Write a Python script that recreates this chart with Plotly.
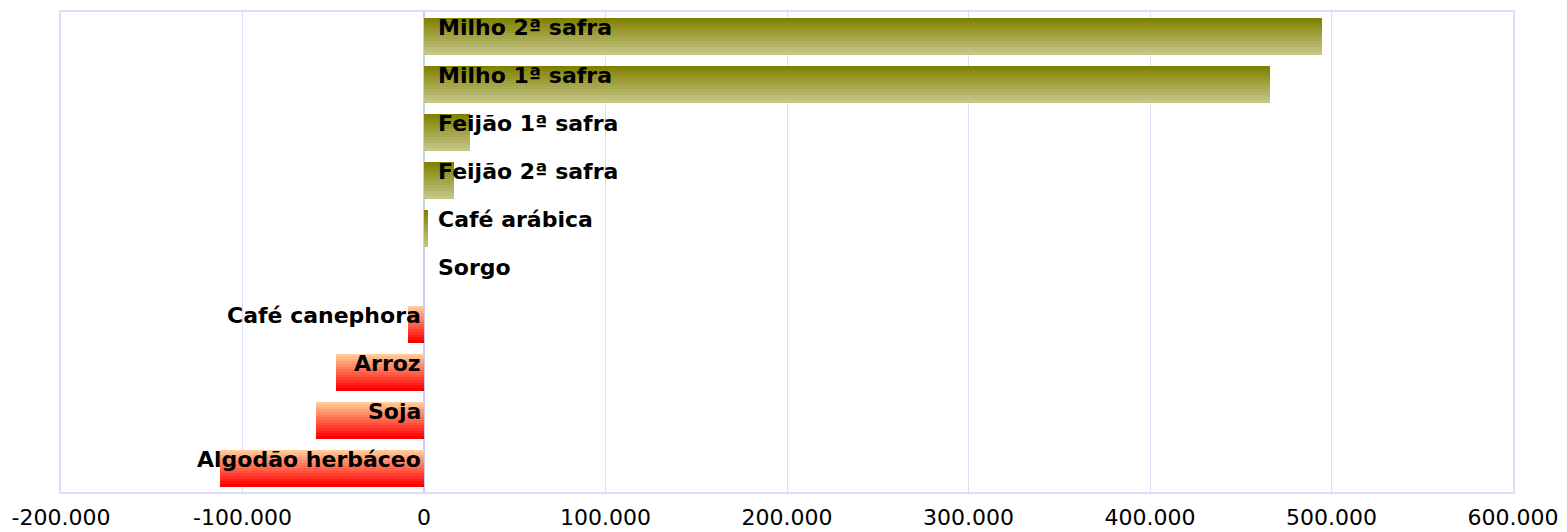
import plotly.graph_objects as go

# culturas, de cima para baixo
cultures = ["Milho 2ª safra", "Milho 1ª safra", "Feijão 1ª safra", "Feijão 2ª safra",
            "Café arábica", "Sorgo", "Café canephora", "Arroz", "Soja", "Algodão herbáceo"]
variation = [495000, 466000, 25200, 16500, 2000, 0, -8600, -48500, -59500, -112400]

tick_values = [-200000, -100000, 0, 100000, 200000, 300000, 400000, 500000, 600000]
tick_labels = ["-200.000", "-100.000", "0", "100.000", "200.000", "300.000",
               "400.000", "500.000", "600.000"]

FONT = "DejaVu Sans, sans-serif"
GRID = "#DDDDFA"
BAR_W = 0.77
N_BANDS = 14  # faixas para imitar o degradê vertical


def mix(c1, c2, t):
    return "#%02X%02X%02X" % tuple(round(a + (b - a) * t) for a, b in zip(c1, c2))


olive_top, olive_bottom = (128, 128, 0), (197, 197, 136)
red_top, red_bottom = (255, 204, 153), (255, 0, 0)

fig = go.Figure()

band = BAR_W / N_BANDS
for k in range(N_BANDS):
    t = k / (N_BANDS - 1)
    cols = [mix(olive_top, olive_bottom, t) if v >= 0 else mix(red_top, red_bottom, t)
            for v in variation]
    fig.add_trace(go.Bar(
        y=cultures, x=variation, orientation="h",
        width=band * 1.08, offset=-BAR_W / 2 + k * band,
        marker=dict(color=cols, line=dict(width=0)),
        hoverinfo="skip", showlegend=False,
    ))

for name, v in zip(cultures, variation):
    fig.add_annotation(
        x=0, y=name, text=name, showarrow=False,
        xanchor="left" if v >= 0 else "right",
        xshift=12 if v >= 0 else -1, yshift=9,
        font=dict(family=FONT, size=22, color="black", weight="bold"),
    )

# a página tem 8px de margem no body: compensado nas margens
fig.update_layout(
    width=1567, height=532,
    margin=dict(l=53, r=62, t=4, b=48),
    paper_bgcolor="white", plot_bgcolor="white",
    barmode="overlay", bargap=0,
    font=dict(family=FONT, size=22, color="black"),
)
fig.update_xaxes(
    range=[-200000, 600000], tickvals=tick_values, ticktext=tick_labels,
    showgrid=True, gridcolor=GRID, gridwidth=1,
    zeroline=True, zerolinecolor="#CCCCF2", zerolinewidth=2,
    showline=True, linecolor=GRID, linewidth=2, mirror=True,
    ticks="", tickfont=dict(size=22), ticklabelstandoff=5,
    automargin=False,
)
fig.update_yaxes(
    categoryorder="array", categoryarray=cultures, autorange="reversed",
    showticklabels=False, showgrid=False, zeroline=False,
    showline=True, linecolor=GRID, linewidth=2, mirror=True, ticks="",
)

fig.write_html("out.html")
